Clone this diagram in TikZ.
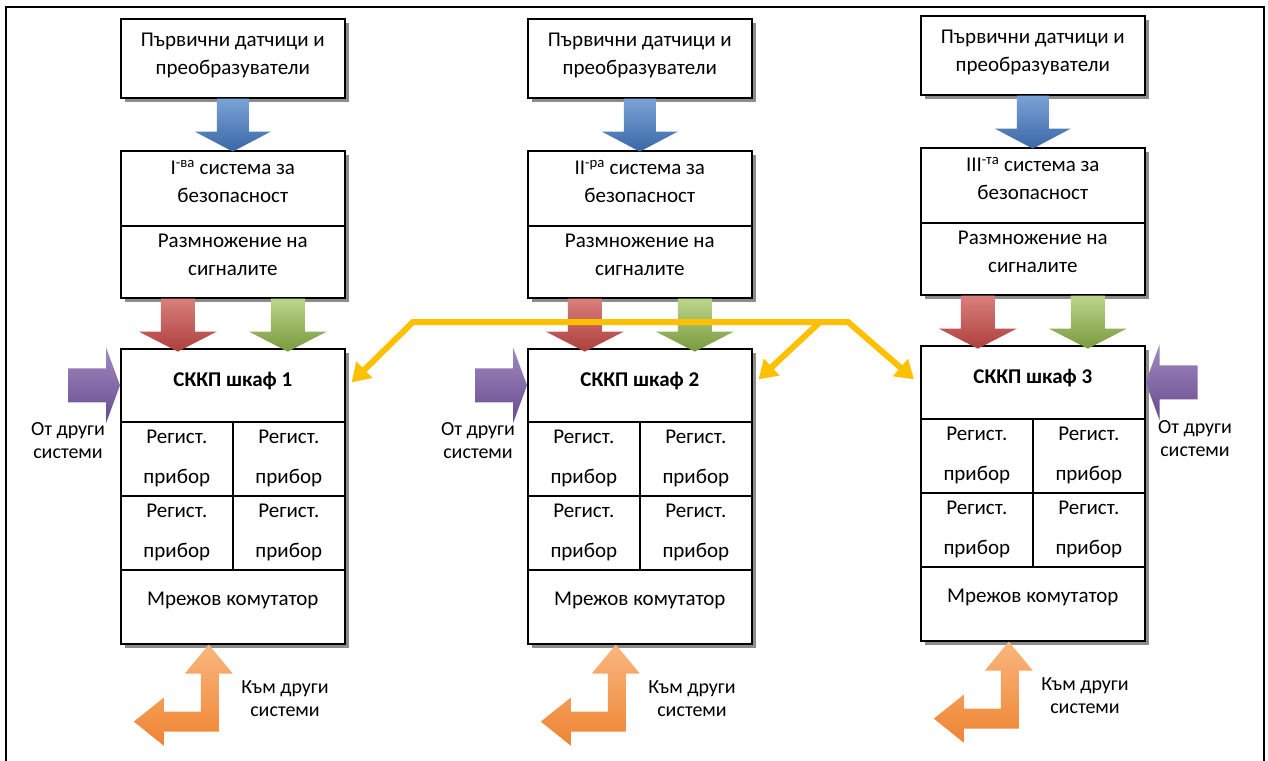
\documentclass[tikz,border=0pt]{standalone}
\usepackage{fontspec}
\setmainfont{Carlito}
\usetikzlibrary{shadows,arrows.meta,calc}
\definecolor{bluetop}{HTML}{7AA2D6}
\definecolor{bluebot}{HTML}{3A68A6}
\definecolor{redtop}{HTML}{D8807D}
\definecolor{redbot}{HTML}{AE3F3C}
\definecolor{greentop}{HTML}{BCD58C}
\definecolor{greenbot}{HTML}{789A3C}
\definecolor{purptop}{HTML}{A08AC0}
\definecolor{purpbot}{HTML}{674B8E}
\definecolor{orantop}{HTML}{FAB67E}
\definecolor{oranbot}{HTML}{EE8432}
\definecolor{yel}{HTML}{FFC000}
\tikzset{
  sect/.style={draw=black, line width=1.6pt, fill=white, inner sep=0pt, anchor=north west,
    drop shadow={shadow xshift=4pt, shadow yshift=-4pt, fill=black, opacity=0.45}},
  txt/.style={font=\fontsize{21}{28}\selectfont, align=center, inner sep=0pt},
  lbl/.style={font=\fontsize{20}{23}\selectfont, align=center, inner sep=0pt},
  celltxt/.style={font=\fontsize{21}{40}\selectfont, align=center},
  bluearr/.style={top color=bluetop, bottom color=bluebot},
  redarr/.style={top color=redtop, bottom color=redbot},
  greenarr/.style={top color=greentop, bottom color=greenbot},
  purparr/.style={top color=purptop, bottom color=purpbot},
  oranarr/.style={top color=orantop, bottom color=oranbot},
  yline/.style={draw=yel, line width=6pt, line join=miter},
  yhead/.style={-{Triangle[width=22pt,length=18pt]}},
  frame/.style={draw=black, line width=2.5pt},
}
\newcommand\syscol[5]{%
\begin{scope}[shift={(#1,#2)}]
  \node[sect, minimum width=224pt, minimum height=79pt] (top#3) at (0,18) {};
  \node[txt] (topt#3) at ([yshift=3pt]top#3.center) {Първични датчици и\\преобразуватели};
  \node[sect, minimum width=224pt, minimum height=75pt] (safa#3) at (0,150) {};
  \node[txt] (safat#3) at ([yshift=7pt]safa#3.center) {#4 система за\\безопасност};
  \node[sect, minimum width=224pt, minimum height=72pt] (safb#3) at (0,225) {};
  \node[txt] (safbt#3) at ([yshift=7pt]safb#3.center) {Размножение на\\сигналите};
  \shade[bluearr, shift={(top#3.south)}] (-16,0) -- (16,0) -- (16,33) -- (38,33) -- (0,53) -- (-38,33) -- (-16,33) -- cycle;
  \node[sect, minimum width=224pt, minimum height=73pt] (sk#3) at (0,348) {};
  \node[txt, font=\fontsize{21}{28}\selectfont\bfseries] (skt#3) at ([yshift=4pt]sk#3.center) {СККП шкаф #5};
  \node[sect, celltxt, minimum width=112pt, minimum height=74pt] (ca#3) at (0,421) {Регист.\\прибор};
  \node[sect, celltxt, minimum width=112pt, minimum height=74pt] (cb#3) at (112,421) {Регист.\\прибор};
  \node[sect, celltxt, minimum width=112pt, minimum height=74pt] (cc#3) at (0,495) {Регист.\\прибор};
  \node[sect, celltxt, minimum width=112pt, minimum height=74pt] (cd#3) at (112,495) {Регист.\\прибор};
  \node[sect, minimum width=224pt, minimum height=74pt] (net#3) at (0,569) {};
  \node[txt] (nett#3) at ([yshift=6pt]net#3.center) {Мрежов комутатор};
  \shade[redarr, shift={([xshift=-55pt]safb#3.south)}] (-17,0) -- (17,0) -- (17,33) -- (39,33) -- (0,53) -- (-39,33) -- (-17,33) -- cycle;
  \shade[greenarr, shift={([xshift=55pt]safb#3.south)}] (-17,0) -- (17,0) -- (17,33) -- (39,33) -- (0,53) -- (-39,33) -- (-17,33) -- cycle;
  \shade[oranarr, shift={([xshift=-24pt]net#3.south)}] (0,0) -- (24,29) -- (10,29) -- (10,87) -- (-45,87) -- (-45,101) -- (-75,77) -- (-45,53) -- (-45,67) -- (-8,67) -- (-8,29) -- (-24,29) -- cycle;
  \node[lbl] (kt#3) at (165,699) {Към други\\системи};
\end{scope}}
\begin{document}
\begin{tikzpicture}[x=1pt, y=-1pt]
  \useasboundingbox (0,0) rectangle (1268,760);
  \draw[frame] (6,7) rectangle (1264,790);
  \syscol{120}{0}{a}{I\textsuperscript{-ва}}{1}
  \syscol{527}{0}{b}{II\textsuperscript{-ра}}{2}
  \syscol{920}{-3}{c}{III\textsuperscript{-та}}{3}
  % purple arrows
  \shade[purparr, shift={(ska.west)}] (0,0) -- (-14,-38) -- (-14,-17) -- (-52,-17) -- (-52,17) -- (-14,17) -- (-14,38) -- cycle;
  \shade[purparr, shift={(skb.west)}] (0,0) -- (-14,-38) -- (-14,-17) -- (-52,-17) -- (-52,17) -- (-14,17) -- (-14,38) -- cycle;
  \shade[purparr, shift={(skc.east)}] (0,0) -- (14,-38) -- (14,-17) -- (52,-17) -- (52,17) -- (14,17) -- (14,38) -- cycle;
  \node[lbl] (ota) at (68,441) {От други\\системи};
  \node[lbl] (otb) at (478,441) {От други\\системи};
  \node[lbl] (otc) at (1195,439) {От други\\системи};
  % yellow connections
  \coordinate (ya) at (413,322);
  \coordinate (yb) at (820,322);
  \coordinate (yc) at (848,322);
  \coordinate (t1) at ([xshift=6pt, yshift=3pt]ska.east);
  \coordinate (t2) at ([xshift=6pt, yshift=6pt]skb.east);
  \coordinate (t3) at ([xshift=-6pt, yshift=3pt]skc.west);
  \draw[yline, {Triangle[width=22pt,length=18pt]}-{Triangle[width=22pt,length=18pt]}] (t1) -- (ya) -- (yc) -- (t3);
  \draw[yline, yhead] (yb) -- (t2);
\end{tikzpicture}
\end{document}
